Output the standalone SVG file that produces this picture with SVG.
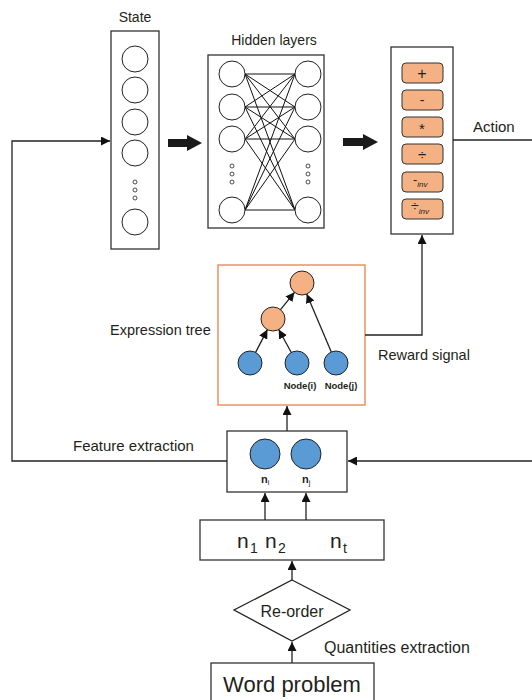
<svg xmlns="http://www.w3.org/2000/svg" width="532" height="700" viewBox="0 0 532 700">
<defs>
<style>
text{font-family:"Liberation Sans",Arial,sans-serif;fill:#231f20}
.box{fill:#fff;stroke:#333;stroke-width:1.3}
.c{fill:#fff;stroke:#222;stroke-width:1}
.dot{fill:#fff;stroke:#222;stroke-width:0.8}
.blue{fill:#5b9bd5;stroke:#222;stroke-width:1}
.orange{fill:#f4b183;stroke:#222;stroke-width:1}
.btn{fill:#f4b183;stroke:#333;stroke-width:1}
.ln{fill:none;stroke:#222;stroke-width:1.3}
.net{stroke:#111;stroke-width:1}
.big{fill:#1a1a1a}
</style>
<marker id="ah" markerUnits="userSpaceOnUse" markerWidth="9" markerHeight="9" viewBox="0 0 10 10" refX="10" refY="5" orient="auto">
<path d="M0,0 L10,5 L0,10 z" fill="#111"/>
</marker>
</defs>
<rect width="532" height="700" fill="#fff"/>

<g id="state">
<text x="135" y="22" font-size="14" text-anchor="middle">State</text>
<rect class="box" x="111" y="31" width="48" height="218"/>
<circle class="c" cx="135" cy="59" r="13"/>
<circle class="c" cx="135" cy="90" r="13"/>
<circle class="c" cx="135" cy="122" r="13"/>
<circle class="c" cx="135" cy="153" r="13"/>
<circle class="dot" cx="135" cy="182" r="2"/>
<circle class="dot" cx="135" cy="190" r="2"/>
<circle class="dot" cx="135" cy="198" r="2"/>
<circle class="c" cx="135" cy="222" r="13"/>
</g>

<g id="hidden">
<text x="274" y="45" font-size="14" text-anchor="middle">Hidden layers</text>
<rect class="box" x="208" y="55" width="116" height="173"/>
<g class="net">
<line x1="245" y1="74" x2="295" y2="74"/><line x1="245" y1="74" x2="295" y2="107"/><line x1="245" y1="74" x2="295" y2="139"/><line x1="245" y1="74" x2="295" y2="210"/>
<line x1="245" y1="107" x2="295" y2="74"/><line x1="245" y1="107" x2="295" y2="107"/><line x1="245" y1="107" x2="295" y2="139"/><line x1="245" y1="107" x2="295" y2="210"/>
<line x1="245" y1="139" x2="295" y2="74"/><line x1="245" y1="139" x2="295" y2="107"/><line x1="245" y1="139" x2="295" y2="139"/><line x1="245" y1="139" x2="295" y2="210"/>
<line x1="245" y1="210" x2="295" y2="74"/><line x1="245" y1="210" x2="295" y2="107"/><line x1="245" y1="210" x2="295" y2="139"/><line x1="245" y1="210" x2="295" y2="210"/>
</g>
<circle class="c" cx="232" cy="74" r="13"/>
<circle class="c" cx="232" cy="107" r="13"/>
<circle class="c" cx="232" cy="139" r="13"/>
<circle class="c" cx="232" cy="210" r="13"/>
<circle class="c" cx="308" cy="74" r="13"/>
<circle class="c" cx="308" cy="107" r="13"/>
<circle class="c" cx="308" cy="139" r="13"/>
<circle class="c" cx="308" cy="210" r="13"/>
<circle class="dot" cx="232" cy="166" r="2"/><circle class="dot" cx="232" cy="174" r="2"/><circle class="dot" cx="232" cy="182" r="2"/>
<circle class="dot" cx="308" cy="166" r="2"/><circle class="dot" cx="308" cy="174" r="2"/><circle class="dot" cx="308" cy="182" r="2"/>
</g>

<g id="actions">
<rect class="box" x="391" y="47" width="62" height="187"/>
<rect class="btn" x="402" y="63" width="41" height="20" rx="4"/>
<rect class="btn" x="402" y="90" width="41" height="20" rx="4"/>
<rect class="btn" x="402" y="117" width="41" height="20" rx="4"/>
<rect class="btn" x="402" y="144" width="41" height="20" rx="4"/>
<rect class="btn" x="402" y="172" width="41" height="20" rx="4"/>
<rect class="btn" x="402" y="199" width="41" height="20" rx="4"/>
<text x="422" y="79" font-size="16" text-anchor="middle">+</text>
<text x="422" y="105" font-size="14" text-anchor="middle">-</text>
<text x="422" y="134" font-size="15" text-anchor="middle">*</text>
<text x="422" y="160" font-size="15" text-anchor="middle">÷</text>
<text x="413" y="184" font-size="13">-<tspan font-size="8" font-style="italic" dy="3">inv</tspan></text>
<text x="411" y="211" font-size="14">÷<tspan font-size="8" font-style="italic" dy="3">inv</tspan></text>
<text x="473" y="132" font-size="15">Action</text>
</g>

<g id="expression-tree">
<rect x="218" y="265" width="147" height="140" fill="#fff" stroke="#e9804d" stroke-width="1.3"/>
<circle class="orange" cx="302" cy="283" r="12"/>
<circle class="orange" cx="273" cy="319" r="12"/>
<circle class="blue" cx="250" cy="363" r="12"/>
<circle class="blue" cx="297" cy="363" r="12"/>
<circle class="blue" cx="336" cy="363" r="12"/>
<line class="ln" x1="255.6" y1="352.4" x2="267.4" y2="329.6" marker-end="url(#ah)"/>
<line class="ln" x1="291.3" y1="352.5" x2="278.7" y2="329.5" marker-end="url(#ah)"/>
<line class="ln" x1="280.5" y1="309.7" x2="294.5" y2="292.3" marker-end="url(#ah)"/>
<line class="ln" x1="331.3" y1="352" x2="306.7" y2="294" marker-end="url(#ah)"/>
<text x="300" y="389" font-size="9.5" font-weight="bold" text-anchor="middle">Node(i)</text>
<text x="341" y="389" font-size="9.5" font-weight="bold" text-anchor="middle">Node(j)</text>
<text x="110" y="335" font-size="14.5">Expression tree</text>
</g>

<g id="features">
<rect class="box" x="227" y="431" width="120" height="61"/>
<circle class="blue" cx="265" cy="454" r="15"/>
<circle class="blue" cx="306" cy="454" r="15"/>
<text x="261" y="483" font-size="11" font-weight="bold">n<tspan font-size="7.5" font-weight="normal" dy="2">i</tspan></text>
<text x="302" y="483" font-size="11" font-weight="bold">n<tspan font-size="7.5" font-weight="normal" dy="2">j</tspan></text>
<text x="73" y="451" font-size="15">Feature extraction</text>
</g>

<g id="quantities">
<rect class="box" x="200" y="520" width="184" height="40"/>
<text x="237" y="548" font-size="21">n</text><text x="250" y="553" font-size="14">1</text>
<text x="265" y="548" font-size="21">n</text><text x="278" y="553" font-size="14">2</text>
<text x="330" y="548" font-size="21">n</text><text x="343" y="553" font-size="14">t</text>
</g>

<g id="reorder">
<polygon points="292,580 350,610 292,641 234,610" fill="#fff" stroke="#222" stroke-width="1.3"/>
<text x="292" y="617" font-size="16" text-anchor="middle">Re-order</text>
<text x="324" y="653" font-size="16">Quantities extraction</text>
</g>

<g id="word-problem">
<rect class="box" x="211" y="663" width="163" height="45"/>
<text x="292" y="692" font-size="22" text-anchor="middle">Word problem</text>
</g>

<g id="connectors">
<polygon class="big" points="168,139 187,139 187,135 202,143 187,151 187,147 168,147"/>
<polygon class="big" points="343,138 363,138 363,134 378,142 363,150 363,146 343,146"/>
<line class="ln" x1="453" y1="140" x2="532" y2="140"/>
<polyline class="ln" points="365,335 422,335 422,235" marker-end="url(#ah)"/>
<text x="378" y="360" font-size="14.5">Reward signal</text>
<line class="ln" x1="287" y1="431" x2="287" y2="406" marker-end="url(#ah)"/>
<polyline class="ln" points="227,461 12,461 12,141 110,141" marker-end="url(#ah)"/>
<line class="ln" x1="532" y1="461" x2="348" y2="461" marker-end="url(#ah)"/>
<line class="ln" x1="265" y1="520" x2="265" y2="493" marker-end="url(#ah)"/>
<line class="ln" x1="306" y1="520" x2="306" y2="493" marker-end="url(#ah)"/>
<line class="ln" x1="292" y1="580" x2="292" y2="561" marker-end="url(#ah)"/>
<line class="ln" x1="292" y1="663" x2="292" y2="642" marker-end="url(#ah)"/>
</g>
</svg>
